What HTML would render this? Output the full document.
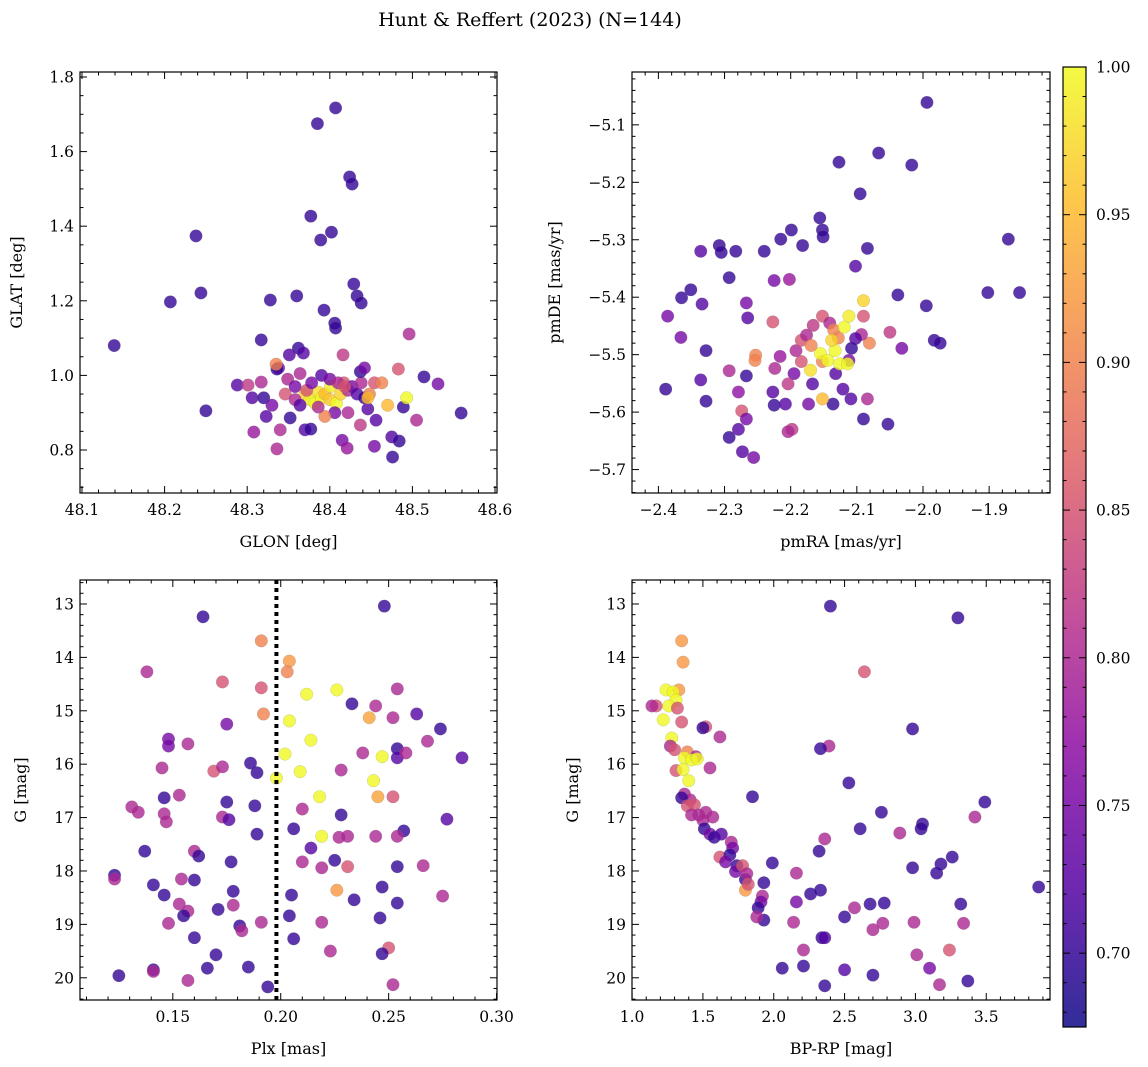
<!DOCTYPE html>
<html><head><meta charset="utf-8">
<style>
html,body{margin:0;padding:0;background:#fff;}
svg{display:block;font-family:"DejaVu Serif","Liberation Serif",serif;}
</style></head>
<body>
<svg id="fig" width="1148" height="1067" viewBox="0 0 1148 1067" xmlns="http://www.w3.org/2000/svg">
<text x="530" y="26" font-size="19" text-anchor="middle">Hunt &amp; Reffert (2023) (N=144)</text>
</svg>
<script>
// Panel 1: GLON vs GLAT
const p1x=[48.139,48.207,48.238,48.244,48.250,48.385,48.407,48.424,48.427,48.377,48.389,48.402,48.360,48.328,48.317,48.393,48.429,48.433,48.438,48.406,48.407,48.496,48.362,48.368,48.338,48.351,48.416,48.514,48.531,48.559,48.483,48.505,48.489,48.475,48.484,48.476,48.454,48.456,48.437,48.415,48.421,48.454,48.463,48.470,48.493,48.288,48.301,48.306,48.317,48.308,48.320,48.336,48.335,48.336,48.340,48.352,48.370,48.377,48.346,48.349,48.358,48.364,48.370,48.376,48.382,48.386,48.390,48.394,48.400,48.401,48.408,48.413,48.417,48.422,48.427,48.433,48.438,48.442,48.446,48.422,48.406,48.394,48.386,48.372,48.378,48.390,48.400,48.410,48.418,48.358,48.364,48.330,48.323,48.437,48.442,48.448,48.446];
const p1y=[1.080,1.197,1.374,1.221,0.905,1.675,1.717,1.532,1.513,1.427,1.363,1.384,1.213,1.202,1.095,1.175,1.245,1.213,1.194,1.140,1.127,1.111,1.073,1.060,1.020,1.055,1.055,0.996,0.977,0.899,1.017,0.880,0.915,0.835,0.824,0.781,0.810,0.880,0.867,0.826,0.805,0.980,0.980,0.920,0.940,0.974,0.974,0.940,0.982,0.848,0.940,1.017,1.030,0.803,0.854,0.886,0.854,0.856,0.950,0.990,0.970,1.005,0.950,0.935,0.925,0.955,0.940,0.950,0.935,0.970,0.925,0.950,0.980,0.960,0.970,0.950,0.980,0.940,0.910,0.900,0.900,0.890,0.915,0.960,0.980,1.000,0.990,0.980,0.970,0.935,0.920,0.920,0.890,1.010,1.020,0.950,0.940];
const p1c=[0.70,0.70,0.70,0.70,0.70,0.70,0.70,0.70,0.70,0.70,0.70,0.70,0.70,0.70,0.70,0.70,0.70,0.70,0.70,0.70,0.70,0.80,0.70,0.72,0.75,0.72,0.82,0.70,0.75,0.70,0.85,0.80,0.70,0.72,0.70,0.70,0.75,0.72,0.82,0.75,0.78,0.85,0.90,0.95,1.00,0.72,0.82,0.72,0.80,0.78,0.70,0.70,0.90,0.80,0.80,0.70,0.72,0.70,0.85,0.80,0.75,0.80,0.97,0.99,1.00,0.98,1.00,0.95,0.96,0.99,1.00,0.97,0.85,0.80,0.75,0.72,0.80,0.70,0.72,0.80,0.75,0.90,0.80,0.85,0.75,0.72,0.75,0.80,0.85,0.80,0.72,0.75,0.72,0.70,0.75,0.90,0.95];
// Panel 2: pmRA vs pmDE
const p2x=[-1.994,-2.017,-2.067,-2.127,-2.095,-1.871,-1.902,-1.854,-1.995,-2.038,-1.983,-1.974,-2.050,-2.032,-2.084,-2.102,-2.156,-2.152,-2.151,-2.199,-2.215,-2.182,-2.240,-2.283,-2.308,-2.305,-2.336,-2.351,-2.365,-2.386,-2.334,-2.366,-2.328,-2.389,-2.336,-2.328,-2.293,-2.267,-2.225,-2.202,-2.265,-2.293,-2.267,-2.253,-2.279,-2.274,-2.267,-2.293,-2.279,-2.273,-2.256,-2.227,-2.254,-2.227,-2.225,-2.208,-2.198,-2.204,-2.173,-2.167,-2.152,-2.152,-2.141,-2.135,-2.128,-2.119,-2.112,-2.090,-2.090,-2.081,-2.093,-2.102,-2.108,-2.112,-2.132,-2.121,-2.109,-2.136,-2.090,-2.084,-2.053,-2.155,-2.144,-2.133,-2.126,-2.114,-2.138,-2.170,-2.152,-2.184,-2.192,-2.195,-2.216,-2.224,-2.204,-2.184,-2.176,-2.166,-2.169];
const p2y=[-5.061,-5.170,-5.149,-5.165,-5.220,-5.299,-5.392,-5.392,-5.415,-5.396,-5.475,-5.480,-5.461,-5.489,-5.315,-5.346,-5.262,-5.283,-5.295,-5.283,-5.299,-5.310,-5.320,-5.320,-5.310,-5.322,-5.320,-5.387,-5.401,-5.433,-5.412,-5.470,-5.493,-5.560,-5.544,-5.581,-5.366,-5.410,-5.371,-5.369,-5.436,-5.528,-5.537,-5.501,-5.565,-5.598,-5.612,-5.644,-5.630,-5.669,-5.679,-5.443,-5.510,-5.565,-5.588,-5.586,-5.630,-5.634,-5.586,-5.551,-5.512,-5.433,-5.445,-5.457,-5.471,-5.452,-5.433,-5.406,-5.433,-5.480,-5.465,-5.472,-5.489,-5.510,-5.533,-5.560,-5.577,-5.586,-5.612,-5.577,-5.621,-5.498,-5.510,-5.493,-5.516,-5.516,-5.475,-5.527,-5.577,-5.512,-5.493,-5.533,-5.503,-5.524,-5.551,-5.475,-5.466,-5.449,-5.484];
const p2c=[0.70,0.70,0.70,0.70,0.70,0.70,0.70,0.70,0.70,0.70,0.70,0.70,0.82,0.75,0.70,0.72,0.70,0.70,0.70,0.70,0.70,0.70,0.70,0.70,0.70,0.70,0.72,0.70,0.70,0.75,0.72,0.75,0.70,0.70,0.72,0.70,0.70,0.75,0.75,0.78,0.72,0.80,0.70,0.90,0.77,0.85,0.75,0.70,0.72,0.72,0.75,0.85,0.90,0.72,0.70,0.72,0.82,0.80,0.75,0.72,0.90,0.85,0.80,0.90,0.90,1.00,0.99,0.97,0.85,0.90,0.80,0.72,0.70,0.75,0.72,0.72,0.72,0.70,0.70,0.80,0.70,1.00,1.00,1.00,1.00,1.00,0.97,0.98,0.95,0.85,0.80,0.75,0.78,0.80,0.82,0.85,0.80,0.82,0.90];
// Panel 3: Plx vs G
const p3x=[0.164,0.248,0.191,0.204,0.203,0.138,0.173,0.191,0.212,0.226,0.244,0.233,0.254,0.192,0.241,0.252,0.263,0.204,0.274,0.175,0.148,0.148,0.157,0.202,0.214,0.254,0.254,0.247,0.238,0.258,0.268,0.284,0.209,0.189,0.186,0.169,0.173,0.145,0.228,0.243,0.198,0.245,0.252,0.218,0.175,0.146,0.153,0.188,0.210,0.131,0.134,0.146,0.147,0.228,0.173,0.176,0.189,0.277,0.257,0.206,0.231,0.219,0.227,0.214,0.244,0.254,0.137,0.160,0.162,0.177,0.210,0.225,0.219,0.231,0.254,0.266,0.123,0.123,0.141,0.154,0.160,0.178,0.205,0.226,0.247,0.275,0.234,0.254,0.153,0.146,0.178,0.157,0.155,0.171,0.204,0.246,0.219,0.148,0.181,0.182,0.191,0.160,0.206,0.223,0.250,0.247,0.170,0.166,0.185,0.141,0.141,0.125,0.157,0.194,0.252];
const p3y=[13.24,13.04,13.69,14.07,14.27,14.27,14.46,14.57,14.69,14.61,14.91,14.87,14.59,15.06,15.13,15.13,15.06,15.19,15.34,15.25,15.53,15.66,15.62,15.81,15.55,15.71,15.88,15.86,15.79,15.79,15.57,15.88,16.14,16.16,15.98,16.13,16.05,16.07,16.11,16.31,16.26,16.61,16.61,16.61,16.71,16.63,16.58,16.78,16.84,16.80,16.90,16.93,17.08,16.95,16.99,17.04,17.31,17.03,17.25,17.21,17.35,17.35,17.37,17.57,17.35,17.35,17.63,17.63,17.72,17.83,17.83,17.80,17.94,17.92,17.92,17.90,18.08,18.15,18.26,18.15,18.17,18.38,18.45,18.36,18.30,18.47,18.54,18.60,18.62,18.45,18.64,18.75,18.84,18.72,18.84,18.88,18.96,18.98,19.03,19.12,18.96,19.25,19.27,19.50,19.44,19.55,19.57,19.82,19.80,19.85,19.88,19.96,20.05,20.17,20.13];
const p3c=[0.70,0.70,0.90,0.92,0.90,0.80,0.85,0.85,1.00,1.00,0.80,0.70,0.80,0.90,0.93,0.80,0.72,1.00,0.70,0.75,0.75,0.75,0.80,1.00,1.00,0.70,0.72,1.00,0.80,0.80,0.80,0.72,1.00,0.70,0.70,0.85,0.80,0.80,0.80,1.00,1.00,0.93,0.85,1.00,0.70,0.70,0.80,0.70,0.80,0.80,0.80,0.80,0.80,0.70,0.80,0.72,0.70,0.72,0.70,0.70,0.80,1.00,0.80,0.72,0.80,0.80,0.70,0.80,0.70,0.70,0.80,0.70,0.80,0.85,0.70,0.80,0.70,0.80,0.70,0.80,0.70,0.70,0.70,0.92,0.70,0.80,0.70,0.70,0.80,0.70,0.80,0.80,0.70,0.70,0.70,0.70,0.80,0.80,0.70,0.80,0.80,0.70,0.70,0.80,0.85,0.70,0.70,0.70,0.70,0.70,0.80,0.70,0.80,0.70,0.80];
// Panel 4: BP-RP vs G
const p4x=[2.40,3.30,1.35,1.36,2.64,1.33,1.24,1.29,1.31,1.26,1.32,1.17,1.14,1.22,1.35,1.52,1.50,2.98,1.28,1.27,1.30,1.39,1.45,1.62,1.37,1.42,1.46,1.31,1.36,1.55,2.39,2.33,2.53,1.40,1.37,1.41,1.44,1.35,1.39,1.85,3.49,1.42,1.47,1.52,1.50,1.57,2.76,3.42,2.61,2.89,3.05,3.04,1.51,1.55,1.58,1.63,2.36,2.32,1.70,1.71,1.62,1.69,1.66,1.74,1.73,1.78,1.80,1.81,1.99,3.26,3.18,3.15,2.98,1.80,1.82,1.93,1.92,1.91,1.89,1.93,2.16,2.16,2.26,2.33,2.57,2.50,2.68,2.78,3.32,3.87,1.88,2.14,2.77,2.99,3.34,2.70,2.34,2.36,2.21,3.24,2.21,2.06,3.01,3.10,2.50,2.70,3.17,3.37,2.36];
const p4y=[13.04,13.26,13.69,14.09,14.27,14.61,14.61,14.65,14.80,14.91,14.95,14.91,14.91,15.17,15.21,15.30,15.32,15.34,15.51,15.66,15.73,15.77,15.86,15.49,15.88,15.92,15.90,16.12,16.10,16.07,15.66,15.71,16.35,16.31,16.56,16.67,16.76,16.63,16.78,16.61,16.71,16.95,16.95,16.90,17.05,16.99,16.90,16.99,17.21,17.29,17.12,17.21,17.21,17.31,17.37,17.31,17.40,17.63,17.46,17.57,17.74,17.70,17.83,17.90,18.01,17.90,18.16,18.05,17.85,17.74,17.87,18.04,17.94,18.36,18.25,18.22,18.47,18.58,18.69,18.92,18.04,18.58,18.43,18.36,18.69,18.86,18.62,18.60,18.62,18.30,18.86,18.96,18.98,18.96,18.98,19.10,19.25,19.25,19.48,19.48,19.78,19.82,19.57,19.82,19.85,19.95,20.13,20.06,20.15];
const p4c=[0.70,0.70,0.92,0.92,0.85,0.92,1.00,1.00,1.00,1.00,0.85,0.85,0.80,1.00,0.85,0.85,0.70,0.70,1.00,0.80,0.85,0.90,0.80,0.80,1.00,1.00,1.00,0.85,1.00,0.80,0.80,0.70,0.70,1.00,0.80,0.80,0.85,0.70,0.85,0.70,0.70,0.80,0.80,0.80,0.80,0.80,0.70,0.80,0.70,0.80,0.70,0.70,0.70,0.75,0.70,0.72,0.80,0.70,0.80,0.75,0.85,0.70,0.75,0.70,0.75,0.85,0.70,0.80,0.70,0.70,0.70,0.70,0.70,0.92,0.85,0.70,0.80,0.75,0.70,0.70,0.80,0.75,0.70,0.70,0.80,0.70,0.70,0.70,0.70,0.70,0.80,0.80,0.80,0.80,0.80,0.80,0.70,0.72,0.80,0.85,0.70,0.70,0.80,0.75,0.72,0.70,0.80,0.70,0.70];
const cbTicks=["0.70","0.75","0.80","0.85","0.90","0.95","1.00"];
const plxLine=[0.198];

const NS="http://www.w3.org/2000/svg";
const svg=document.getElementById('fig');
function mk(tag,attrs,parent){const e=document.createElementNS(NS,tag);for(const k in attrs)e.setAttribute(k,attrs[k]);(parent||svg).appendChild(e);return e;}
const CMIN=0.675,CMAX=1.0;
const stops=[[13,8,135],[84,2,163],[139,10,165],[185,50,137],[219,92,104],[244,136,73],[254,188,43],[240,249,33]];
function cmap(v){let t=(v-CMIN)/(CMAX-CMIN);t=Math.max(0,Math.min(1,t));const f=t*(stops.length-1);const i=Math.min(stops.length-2,Math.floor(f));const r=f-i;const a=stops[i],b=stops[i+1];return `rgb(${Math.round(a[0]+(b[0]-a[0])*r)},${Math.round(a[1]+(b[1]-a[1])*r)},${Math.round(a[2]+(b[2]-a[2])*r)})`;}
function lin(d0,d1,r0,r1){return v=>r0+(v-d0)/(d1-d0)*(r1-r0);}
function fmt(v,dec){return v.toFixed(dec).replace('-','\u2212');}

function panel(o){
  const g=mk('g',{});
  
  
  const X=lin(o.xd[0],o.xd[1],o.L,o.R), Y=lin(o.yd[0],o.yd[1],o.B,o.T);
  const pg=mk('g',{},g);
  
  
  for(let i=0;i<o.xs.length;i++){
    const c=mk('circle',{cx:X(o.xs[i]),cy:Y(o.ys[i]),r:6.3,fill:cmap(o.cs[i]),'fill-opacity':0.8,stroke:'#777','stroke-opacity':0.35,'stroke-width':0.5},pg);
    
    
  }
  if(o.vline){for(const v of o.vline){const l=mk('line',{x1:X(v),x2:X(v),y1:o.T,y2:o.B,stroke:'#000','stroke-width':4,'stroke-dasharray':'4,4'},g);
    
    }}
  const fr=mk('rect',{x:o.L,y:o.T,width:o.R-o.L,height:o.B-o.T,fill:'none',stroke:'#000','stroke-width':1.2},g);
  
  
  const eps=1e-9;
  const st=Math.ceil((o.xd[0]-eps)/o.xmin);
  for(let k=st;k*o.xmin<=o.xd[1]+eps;k++){const v=k*o.xmin;const px=X(v);const maj=Math.abs(v/o.xmaj-Math.round(v/o.xmaj))<1e-6;const len=maj?7:3.5;
    mk('line',{x1:px,x2:px,y1:o.B,y2:o.B-len,stroke:'#000','stroke-width':1},g);mk('line',{x1:px,x2:px,y1:o.T,y2:o.T+len,stroke:'#000','stroke-width':1},g);
    if(maj){const t=mk('text',{x:px,y:o.B+22,'font-size':15.5,'text-anchor':'middle'},g);t.textContent=fmt(v,o.xdec);}}
  const lo=Math.min(o.yd[0],o.yd[1]),hi=Math.max(o.yd[0],o.yd[1]);
  const sy=Math.ceil((lo-eps)/o.ymin);
  for(let k=sy;k*o.ymin<=hi+eps;k++){const v=k*o.ymin;const py=Y(v);const maj=Math.abs(v/o.ymaj-Math.round(v/o.ymaj))<1e-6;const len=maj?7:3.5;
    mk('line',{x1:o.L,x2:o.L+len,y1:py,y2:py,stroke:'#000','stroke-width':1},g);mk('line',{x1:o.R,x2:o.R-len,y1:py,y2:py,stroke:'#000','stroke-width':1},g);
    if(maj){const t=mk('text',{x:o.L-6,y:py+5.5,'font-size':15.5,'text-anchor':'end'},g);t.textContent=fmt(v,o.ydec);}}
  const xl=mk('text',{x:(o.L+o.R)/2,y:o.B+54,'font-size':16,'text-anchor':'middle'},g);xl.textContent=o.xlab;
  
  const cx=o.ylx,cy=(o.T+o.B)/2;
  const yl=mk('text',{x:cx,y:cy,'font-size':16,'text-anchor':'middle',transform:`rotate(-90 ${cx} ${cy})`},g);yl.textContent=o.ylab;
  
}
panel({name:'glon-glat-panel',L:80,R:497,T:72,B:493,xd:[48.0976,48.6024],yd:[0.6847,1.8134],xs:p1x,ys:p1y,cs:p1c,xmaj:0.1,xmin:0.02,ymaj:0.2,ymin:0.05,xdec:1,ydec:1,xlab:'GLON [deg]',ylab:'GLAT [deg]',ylx:22});
panel({name:'proper-motion-panel',L:632,R:1050,T:72,B:493,xd:[-2.4399,-1.808],yd:[-5.7408,-5.008],xs:p2x,ys:p2y,cs:p2c,xmaj:0.1,xmin:0.02,ymaj:0.1,ymin:0.02,xdec:1,ydec:1,xlab:'pmRA [mas/yr]',ylab:'pmDE [mas/yr]',ylx:560});
panel({name:'parallax-magnitude-panel',L:80,R:497,T:580,B:1000,xd:[0.107,0.3002],yd:[20.416,12.551],xs:p3x,ys:p3y,cs:p3c,xmaj:0.05,xmin:0.01,ymaj:1,ymin:0.2,xdec:2,ydec:0,xlab:'Plx [mas]',ylab:'G [mag]',ylx:26,vline:plxLine});
panel({name:'color-magnitude-panel',L:632,R:1050,T:580,B:1000,xd:[0.9995,3.95],yd:[20.416,12.551],xs:p4x,ys:p4y,cs:p4c,xmaj:0.5,xmin:0.1,ymaj:1,ymin:0.2,xdec:1,ydec:0,xlab:'BP-RP [mag]',ylab:'G [mag]',ylx:578});

const cb=mk('g',{});


const CT=67,CB=1027,CL=1063,CR=1086;
const defs=mk('defs',{},cb);const gr=mk('linearGradient',{id:'cbg',x1:0,y1:1,x2:0,y2:0},defs);
for(let i=0;i<=20;i++){const v=CMIN+(CMAX-CMIN)*i/20;mk('stop',{offset:i/20,'stop-color':cmap(v),'stop-opacity':0.85},gr);}
mk('rect',{x:CL,y:CT,width:CR-CL,height:CB-CT,fill:'url(#cbg)',stroke:'#000','stroke-width':1.2},cb);
const CY=lin(CMIN,CMAX,CB,CT);
for(let k=68;k<=100;k++){const v=k/100;const py=CY(v);const maj=k%5===0;mk('line',{x1:CR,x2:CR-(maj?7:3.5),y1:py,y2:py,stroke:'#000','stroke-width':1},cb);mk('line',{x1:CL,x2:CL+(maj?7:3.5),y1:py,y2:py,stroke:'#000','stroke-width':1},cb);}
for(const s of cbTicks){const t=mk('text',{x:CR+10,y:CY(parseFloat(s))+5.5,'font-size':15.5},cb);t.textContent=s;
  
  }
</script>
</body></html>
